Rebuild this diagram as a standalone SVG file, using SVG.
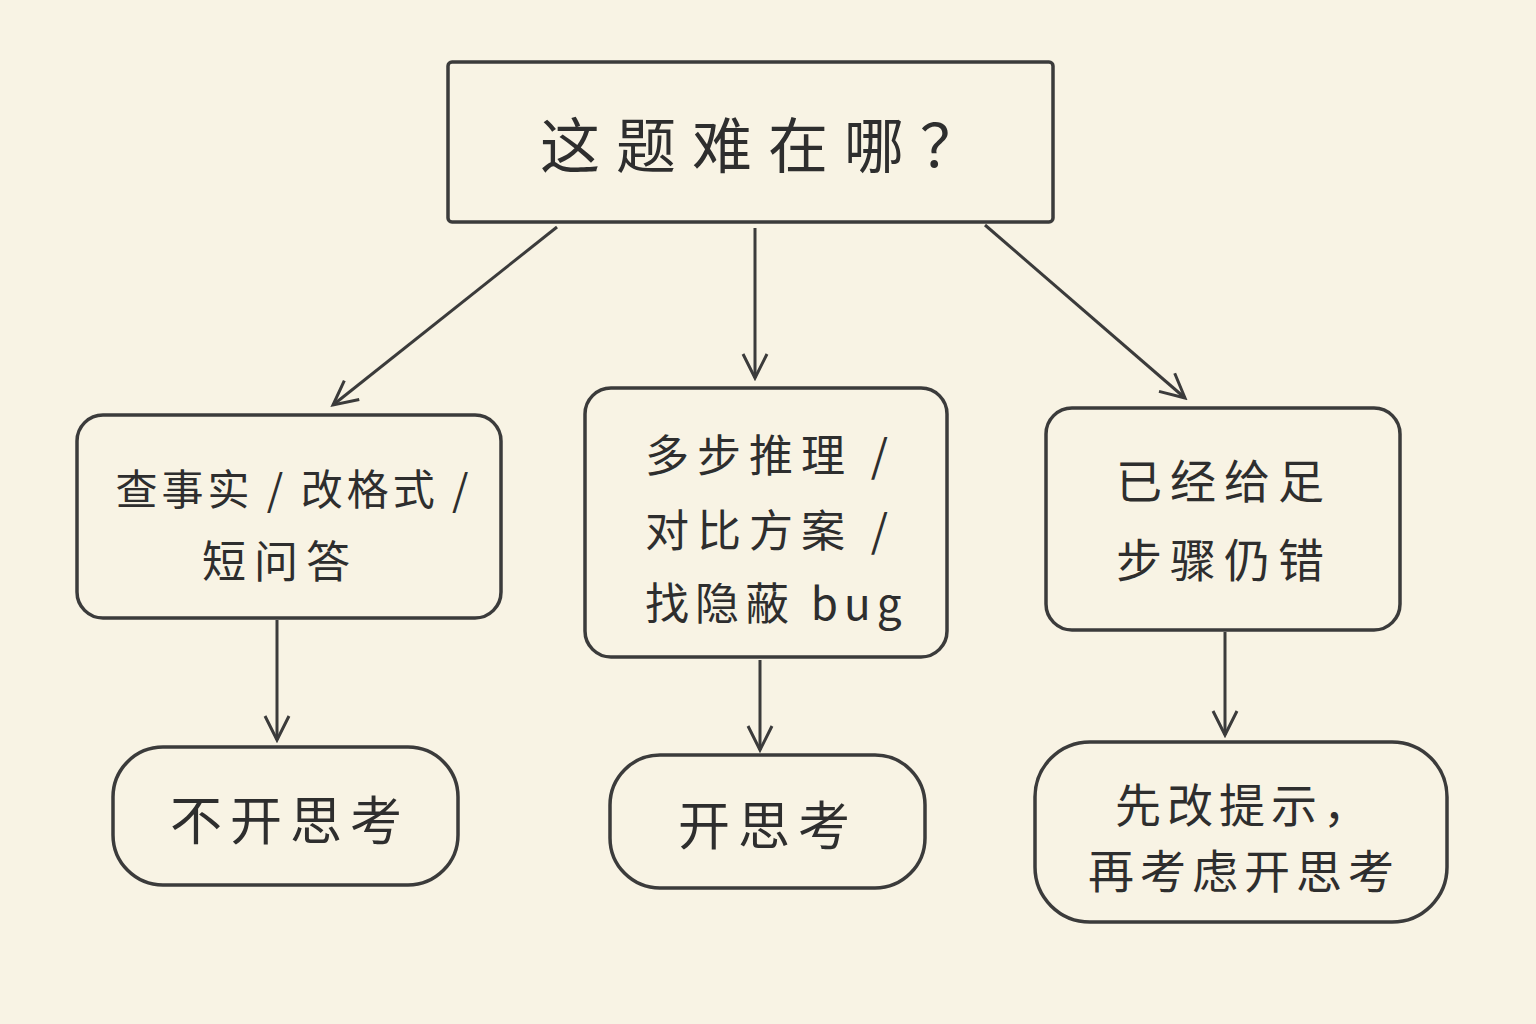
<svg xmlns="http://www.w3.org/2000/svg" width="1536" height="1024" viewBox="0 0 1536 1024">
<defs>
<style>
.box{fill:none;stroke:#3b3b3b;stroke-width:3.5}
.t{font-family:"Noto Sans CJK SC","Liberation Sans",sans-serif;fill:#2e2e2e;text-anchor:middle}
.s{font-family:"Noto Sans CJK SC","Liberation Sans",sans-serif;fill:#2e2e2e}
.c{stroke:#3b3b3b;stroke-width:3;fill:none}
</style>
<marker id="a" viewBox="0 0 20 20" refX="18" refY="10" markerWidth="30" markerHeight="30" markerUnits="userSpaceOnUse" orient="auto"><path d="M2,2 L18,10 L2,18" fill="none" stroke="#3b3b3b" stroke-width="2"/></marker>
</defs>
<rect width="1536" height="1024" fill="#f8f3e4"/>
<g id="top"><rect class="box" x="448" y="62" width="605" height="160" rx="4"/><text class="t" x="768" y="168" font-size="60" letter-spacing="16">这题难在哪？</text></g>
<g id="left"><rect class="box" x="77" y="415" width="424" height="203" rx="26"/><text class="t" x="294" y="505" font-size="42" letter-spacing="4">查事实 / 改格式 /</text><text class="t" x="280" y="578" font-size="44" letter-spacing="8">短问答</text></g>
<g id="mid"><rect class="box" x="585" y="388" width="362" height="269" rx="26"/><text class="s" x="645" y="472" font-size="44" letter-spacing="8">多步推理 /</text><text class="s" x="645" y="547" font-size="44" letter-spacing="8">对比方案 /</text><text class="s" x="645" y="620" font-size="44" letter-spacing="6">找隐蔽 bug</text></g>
<g id="right"><rect class="box" x="1046" y="408" width="354" height="222" rx="26"/><text class="t" x="1224" y="498" font-size="46" letter-spacing="8">已经给足</text><text class="t" x="1224" y="577" font-size="46" letter-spacing="8">步骤仍错</text></g>
<g id="bl"><rect class="box" x="113" y="747" width="345" height="138" rx="50"/><text class="t" x="290" y="840" font-size="52" letter-spacing="8">不开思考</text></g>
<g id="bm"><rect class="box" x="610" y="755" width="315" height="133" rx="50"/><text class="t" x="768" y="845" font-size="52" letter-spacing="8">开思考</text></g>
<g id="br"><rect class="box" x="1035" y="742" width="412" height="180" rx="55"/><text class="t" x="1245" y="822" font-size="46" letter-spacing="6">先改提示，</text><text class="t" x="1244" y="888" font-size="46" letter-spacing="6">再考虑开思考</text></g>
<g id="connectors">
<line class="c" x1="557" y1="227" x2="333" y2="405" marker-end="url(#a)"/>
<line class="c" x1="755" y1="228" x2="755" y2="378" marker-end="url(#a)"/>
<line class="c" x1="985" y1="225" x2="1185" y2="398" marker-end="url(#a)"/>
<line class="c" x1="277" y1="620" x2="277" y2="740" marker-end="url(#a)"/>
<line class="c" x1="760" y1="660" x2="760" y2="750" marker-end="url(#a)"/>
<line class="c" x1="1225" y1="632" x2="1225" y2="735" marker-end="url(#a)"/>
</g>
</svg>
